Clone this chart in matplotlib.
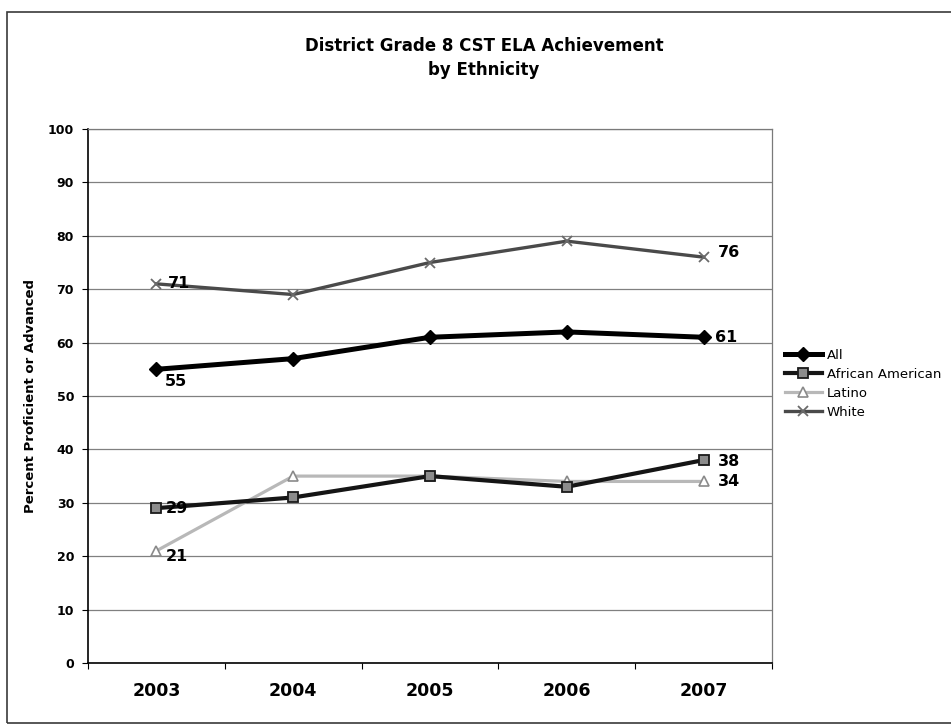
import matplotlib
matplotlib.use("Agg")
import matplotlib.pyplot as plt
from matplotlib.patches import Rectangle

years = ["2003", "2004", "2005", "2006", "2007"]
all_students = [55, 57, 61, 62, 61]
african_american = [29, 31, 35, 33, 38]
latino = [21, 35, 35, 34, 34]
white = [71, 69, 75, 79, 76]

yticks = [0, 10, 20, 30, 40, 50, 60, 70, 80, 90, 100]

W, H = 951, 724
fig = plt.figure(figsize=(W / 100, H / 100), dpi=100)
fig.patch.set_facecolor("white")

L, R, T, B = 88, 772, 129, 663
ax = fig.add_axes([L / W, 1 - B / H, (R - L) / W, (B - T) / H])

x = list(range(len(years)))

series = [
    ("All", all_students, dict(color="black", lw=3.6, marker="D", ms=7.5,
                               mfc="black", mec="black", zorder=5)),
    ("African American", african_american, dict(color="#151515", lw=3.0, marker="s", ms=7,
                                                 mfc="#8c8c8c", mec="#1a1a1a", mew=1.3, zorder=4)),
    ("Latino", latino, dict(color="#b8b8b8", lw=2.3, marker="^", ms=7.5,
                            mfc="white", mec="#8a8a8a", mew=1.2, zorder=3)),
    ("White", white, dict(color="#4a4a4a", lw=2.4, marker="x", ms=7.5,
                          mec="#6a6a6a", mew=1.3, zorder=3)),
]

handles = []
for name, vals, st in series:
    h, = ax.plot(x, vals, label=name, **st)
    handles.append(h)

lab_kw = dict(fontsize=11.5, fontweight="bold", color="black", zorder=6)
ax.annotate(str(white[0]), (x[0], white[0]), xytext=(8, 0), textcoords="offset points",
            ha="left", va="center", **lab_kw)
ax.annotate(str(all_students[0]), (x[0], all_students[0]), xytext=(6, -9), textcoords="offset points",
            ha="left", va="center", **lab_kw)
ax.annotate(str(african_american[0]), (x[0], african_american[0]), xytext=(7, 0), textcoords="offset points",
            ha="left", va="center", **lab_kw)
ax.annotate(str(latino[0]), (x[0], latino[0]), xytext=(7, -4), textcoords="offset points",
            ha="left", va="center", **lab_kw)
ax.annotate(str(white[-1]), (x[-1], white[-1]), xytext=(10, 3), textcoords="offset points",
            ha="left", va="center", **lab_kw)
ax.annotate(str(all_students[-1]), (x[-1], all_students[-1]), xytext=(8, 0), textcoords="offset points",
            ha="left", va="center", **lab_kw)
ax.annotate(str(african_american[-1]), (x[-1], african_american[-1]), xytext=(10, -1), textcoords="offset points",
            ha="left", va="center", **lab_kw)
ax.annotate(str(latino[-1]), (x[-1], latino[-1]), xytext=(10, 0), textcoords="offset points",
            ha="left", va="center", **lab_kw)

ax.set_xlim(-0.5, len(years) - 0.5)
ax.set_ylim(0, 100)
ax.set_yticks(yticks)
ax.set_yticklabels([str(v) for v in yticks], fontsize=9, fontweight="bold")
ax.set_xticks(x)
ax.set_xticklabels(years, fontsize=12.5, fontweight="bold")
ax.tick_params(axis="x", length=0, pad=14)
ax.tick_params(axis="y", length=4, width=0.8, pad=6, direction="out")

ax.set_xticks([i - 0.5 for i in range(len(years) + 1)], minor=True)
ax.tick_params(axis="x", which="minor", length=4, width=0.8, direction="out")

ax.yaxis.grid(True, color="#808080", lw=0.9)
ax.set_axisbelow(True)
for s in ["top", "right"]:
    ax.spines[s].set_color("#7a7a7a")
    ax.spines[s].set_linewidth(0.9)
for s in ["left", "bottom"]:
    ax.spines[s].set_color("black")
    ax.spines[s].set_linewidth(1.2)

ax.set_ylabel("Percent Proficient or Advanced", fontsize=9.5, fontweight="bold")
ax.yaxis.set_label_coords((37 - L) / (R - L), 0.5)

fig.text(484 / W, 1 - 46 / H, "District Grade 8 CST ELA Achievement", ha="center", va="center",
         fontsize=12, fontweight="bold")
fig.text(484 / W, 1 - 70 / H, "by Ethnicity", ha="center", va="center",
         fontsize=12, fontweight="bold")

fig.legend(handles=handles, loc="upper left", bbox_to_anchor=(785 / W, 1 - 349 / H),
           frameon=False, fontsize=9.5, handlelength=2.8, handletextpad=0.35,
           labelspacing=0.45, borderaxespad=0, borderpad=0)

fig.patches.append(Rectangle((7 / W, 1 - 723 / H), (W + 20 - 7) / W, (723 - 12) / H,
                             transform=fig.transFigure, fill=False, ec="#3a3a3a", lw=1.2))

fig.savefig("out.png", dpi=100)
